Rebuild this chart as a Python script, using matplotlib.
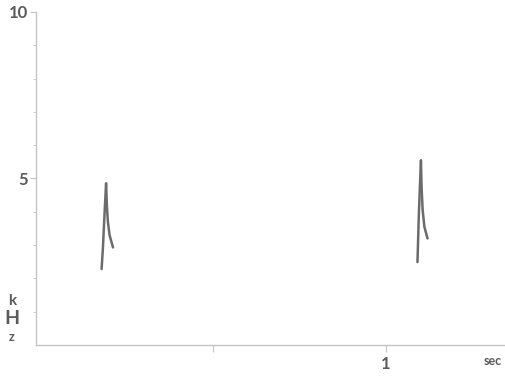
import numpy as np
import matplotlib.pyplot as plt

# call traces (time in sec, frequency in kHz)
call1_rise_t = [0.178, 0.182, 0.185, 0.188, 0.191]
call1_rise_f = [2.28, 2.95, 3.62, 4.25, 4.85]
call1_fall_t = [0.191, 0.193, 0.196, 0.201, 0.211]
call1_fall_f = [4.85, 4.25, 3.72, 3.30, 2.93]

call2_rise_t = [1.091, 1.093, 1.095, 1.098, 1.101]
call2_rise_f = [2.49, 3.20, 3.92, 4.75, 5.54]
call2_fall_t = [1.101, 1.103, 1.106, 1.111, 1.120]
call2_fall_f = [5.54, 4.70, 4.05, 3.55, 3.20]

y_major = [5, 10]
y_minor = [1, 2, 3, 4, 6, 7, 8, 9]
x_ticks = [0.5, 1.0]
x_labels = ['', '1']

W, H = 506, 376
fig = plt.figure(figsize=(W / 100, H / 100), dpi=100)
ax = fig.add_axes([36 / W, 1 - 345 / H, (505 - 36) / W, (345 - 12) / H])

ink = '#6b6b6b'
for t, f in [(call1_rise_t, call1_rise_f), (call1_fall_t, call1_fall_f),
             (call2_rise_t, call2_rise_f), (call2_fall_t, call2_fall_f)]:
    ax.plot(t, f, color=ink, lw=1.8, solid_capstyle='round')

ax.set_xlim(-0.0116, 1.344)
ax.set_ylim(0, 10)

axis_col = '#c4c4c4'
lab_col = '#5a5a5a'
for s in ['top', 'right']:
    ax.spines[s].set_visible(False)
for s in ['left', 'bottom']:
    ax.spines[s].set_color(axis_col)
    ax.spines[s].set_linewidth(1.0)

ax.set_yticks(y_major)
ax.set_yticks(y_minor, minor=True)
ax.set_yticklabels(['5', '10'], fontsize=12, fontweight='bold', color=lab_col,
                   family='Lato')
ax.tick_params(axis='y', which='major', length=4.3, color=axis_col, pad=1.5)
ax.tick_params(axis='y', which='minor', length=2.2, color=axis_col)

ax.set_xticks(x_ticks)
ax.set_xticklabels(x_labels, fontsize=12, fontweight='bold', color=lab_col,
                   family='Lato')
ax.tick_params(axis='x', which='major', length=5, color=axis_col, pad=3)

fig.text(493 / W, 1 - 361 / H, 'sec', fontsize=9, fontweight='bold',
         color=lab_col, family='Lato', ha='center', va='center')
fig.text(12 / W, 1 - 301 / H, 'k', fontsize=11, fontweight='bold',
         color=lab_col, family='Lato', ha='center', va='center')
fig.text(12 / W, 1 - 319 / H, 'H', fontsize=14, fontweight='bold',
         color=lab_col, family='Lato', ha='center', va='center')
fig.text(12 / W, 1 - 337 / H, 'z', fontsize=9, fontweight='bold',
         color=lab_col, family='Lato', ha='center', va='center')

fig.savefig('out.png', dpi=100)
